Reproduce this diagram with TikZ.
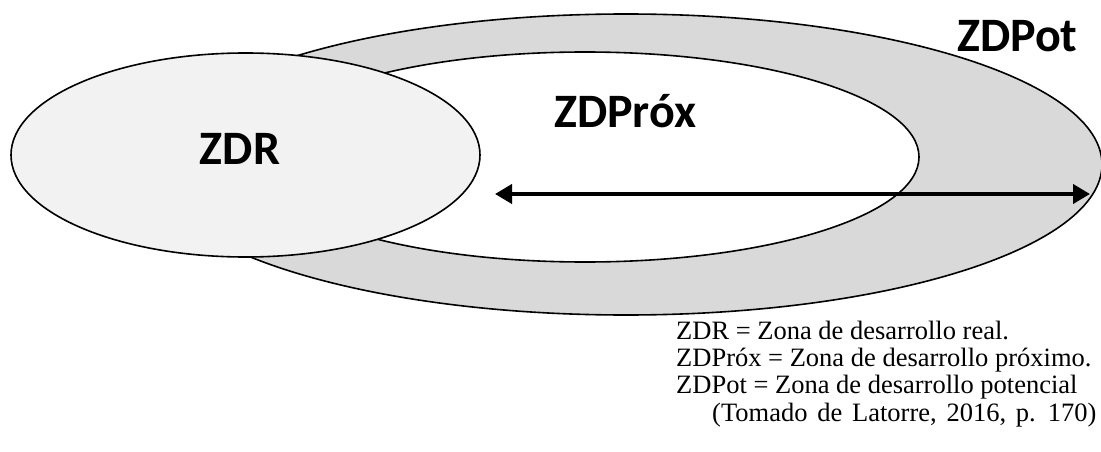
\documentclass[tikz,border=0pt]{standalone}
\usepackage{fontspec}
\setmainfont{Liberation Serif}
\newfontfamily\calibri{Carlito}
\usetikzlibrary{shapes.geometric,arrows.meta}
\tikzset{
  zone/.style={ellipse, draw=black, line width=1.6pt, inner sep=0pt},
  biglabel/.style={font=\calibri\bfseries\fontsize{48}{52}\selectfont, inner sep=0pt},
  legend/.style={font=\fontsize{26.5}{30}\selectfont, inner sep=0pt, anchor=base west},
  spanarrow/.style={line width=4pt, {Triangle[length=17pt,width=19pt]}-{Triangle[length=17pt,width=19pt]}}
}
\begin{document}
\begin{tikzpicture}[x=1pt,y=-1pt]
\useasboundingbox (0,0) rectangle (1101,452);
\node[zone, fill={rgb,255:red,217;green,217;blue,217}, minimum width=952pt, minimum height=301pt] (pot) at (626,164.5) {};
\node[zone, fill=white, minimum width=668pt, minimum height=210pt] (prox) at (585,157) {};
\coordinate (aL) at (495,194);
\coordinate (aR) at (1090,194);
\draw[spanarrow] (aL) -- (aR);
\node[zone, fill={rgb,255:red,242;green,242;blue,242}, minimum width=469pt, minimum height=204pt] (zdr) at (245.5,155) {};
\node[biglabel, anchor=base] (lzdr) at (240,164) {ZDR};
\node[biglabel, anchor=base west] (lprox) at (554,127) {ZDPróx};
\node[biglabel, anchor=base west] (lpot) at (957,52) {ZDPot};
\node[legend] (g1) at (676,339) {ZDR = Zona de desarrollo real.};
\node[legend] (g2) at (676,366) {ZDPróx = Zona de desarrollo próximo.};
\node[legend] (g3) at (676,393) {ZDPot = Zona de desarrollo potencial};
\node[legend] (g4) at (712,421) {\spaceskip=0.37em\relax (Tomado de Latorre, 2016, p. 170)};
\end{tikzpicture}
\end{document}
